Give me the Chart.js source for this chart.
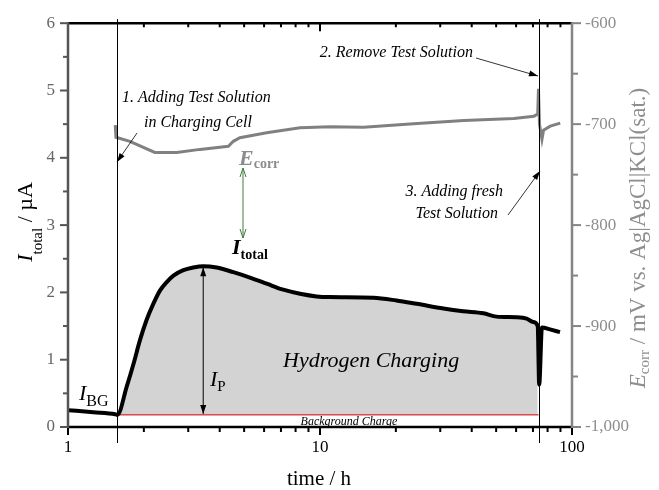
<!DOCTYPE html>
<html>
<head>
<meta charset="utf-8">
<script src="https://cdn.jsdelivr.net/npm/chart.js@4.4.0/dist/chart.umd.min.js"></script>
<style>
  html, body { margin: 0; padding: 0; background: #fff; }
</style>
</head>
<body>
<canvas id="graficoCarga" width="659" height="490"></canvas>
<script>
// tiempo (h) e intensidad total (µA)
const tiempoI = [1.0, 1.26, 1.54, 1.57, 1.71, 1.82, 1.93, 2.05, 2.18, 2.32, 2.46, 2.62, 2.87, 3.14, 3.44, 3.89, 4.53, 5.27, 6.14, 7.15, 8.33, 9.7, 10.9, 16.3, 20.1, 24.2, 30.9, 37.0, 44.5, 50.2, 60.3, 66.1, 70.2, 73.1, 74.1, 76.0, 81.8, 89.6];
const corrienteTotal = [0.25, 0.22, 0.19, 0.18, 0.60, 0.94, 1.29, 1.59, 1.83, 2.03, 2.15, 2.25, 2.33, 2.37, 2.39, 2.37, 2.30, 2.22, 2.13, 2.04, 1.98, 1.94, 1.93, 1.92, 1.88, 1.83, 1.76, 1.72, 1.69, 1.64, 1.63, 1.61, 1.56, 1.50, 0.63, 1.48, 1.45, 1.41];

// tiempo (h) y potencial de corrosión (mV)
const tiempoE = [1.54, 1.55, 1.76, 2.21, 2.70, 3.34, 4.33, 4.53, 4.81, 6.14, 8.33, 10.97, 14.9, 23.5, 37.2, 58.8, 70.6, 73.1, 73.6, 74.3, 76.0, 77.1, 82.0, 89.8];
const potencialCorr = [-701, -713, -717, -728, -728, -725, -722, -717, -713.5, -708.6, -703.6, -702.6, -703, -699.7, -696.3, -694.4, -692.1, -690, -665, -700, -715, -706, -702, -699];

// eventos: añadir solución / cambiar solución
const tiemposEvento = [1.56, 73.7];
// corriente de fondo
const corrienteFondo = 0.18;

const etiquetasX = [1, 10, 100];
const ticksIzq = [0, 1, 2, 3, 4, 5, 6];
const ticksDer = [-1000, -900, -800, -700, -600];

const SERIF = "'Liberation Serif', 'Times New Roman', serif";

const puntosI = tiempoI.map((t, i) => ({ x: t, y: corrienteTotal[i] }));
const puntosE = tiempoE.map((t, i) => ({ x: t, y: potencialCorr[i] }));
const puntosArea = puntosI.filter(p => p.x >= tiemposEvento[0] && p.x <= tiemposEvento[1]);
const puntosFondo = tiemposEvento.map(t => ({ x: t, y: corrienteFondo }));

function texto(ctx, x, y, partes, align) {
  // partes: [{t, font, dy, color}]
  let ancho = 0;
  partes.forEach(p => { ctx.font = p.font; ancho += ctx.measureText(p.t).width; });
  let cx = align === 'center' ? x - ancho / 2 : (align === 'right' ? x - ancho : x);
  ctx.textAlign = 'left';
  ctx.textBaseline = 'alphabetic';
  partes.forEach(p => {
    ctx.font = p.font;
    ctx.fillStyle = p.color || '#000';
    ctx.fillText(p.t, cx, y + (p.dy || 0));
    cx += ctx.measureText(p.t).width;
  });
}

function punta(ctx, x1, y1, x2, y2, largo, ancho, abierta) {
  const ang = Math.atan2(y2 - y1, x2 - x1);
  const bx = x2 - largo * Math.cos(ang), by = y2 - largo * Math.sin(ang);
  const nx = -Math.sin(ang) * ancho / 2, ny = Math.cos(ang) * ancho / 2;
  ctx.beginPath();
  ctx.moveTo(bx + nx, by + ny);
  ctx.lineTo(x2, y2);
  ctx.lineTo(bx - nx, by - ny);
  if (abierta) { ctx.stroke(); } else { ctx.closePath(); ctx.fill(); }
}

function flecha(ctx, x1, y1, x2, y2, color, grosor, doble, abierta) {
  ctx.save();
  ctx.strokeStyle = color;
  ctx.fillStyle = color;
  ctx.lineWidth = grosor;
  ctx.beginPath();
  ctx.moveTo(x1, y1);
  ctx.lineTo(x2, y2);
  ctx.stroke();
  punta(ctx, x1, y1, x2, y2, 9, 6, abierta);
  if (doble) punta(ctx, x2, y2, x1, y1, 9, 6, abierta);
  ctx.restore();
}

const marcoEjes = {
  id: 'marcoEjes',
  afterDatasetsDraw(chart) {
    const { ctx, chartArea: a, scales } = chart;
    const sx = scales.x, sy = scales.y, sy2 = scales.y2;
    ctx.save();

    // lineas verticales de los eventos
    ctx.strokeStyle = '#000';
    ctx.lineWidth = 1;
    tiemposEvento.forEach(t => {
      const px = Math.round(sx.getPixelForValue(t)) + 0.5;
      ctx.beginPath();
      ctx.moveTo(px, a.top - 4);
      ctx.lineTo(px, a.bottom + 16);
      ctx.stroke();
    });

    // ticks eje x (abajo hacia fuera, arriba hacia dentro)
    ctx.strokeStyle = '#000';
    ctx.lineWidth = 2;
    for (let d = 1; d <= 100; d *= 10) {
      for (let k = 1; k <= 9; k++) {
        const v = d * k;
        if (v > 100) break;
        const px = sx.getPixelForValue(v);
        const mayor = k === 1;
        ctx.beginPath();
        ctx.moveTo(px, a.bottom);
        ctx.lineTo(px, a.bottom + (mayor ? 8 : 5));
        ctx.moveTo(px, a.top);
        ctx.lineTo(px, a.top + (mayor ? 8 : 4));
        ctx.stroke();
      }
    }
    // ticks eje izquierdo
    ctx.strokeStyle = '#555';
    for (let v = 0; v <= 6; v += 0.5) {
      const py = sy.getPixelForValue(v);
      ctx.beginPath();
      ctx.moveTo(a.left, py);
      ctx.lineTo(a.left - (v % 1 === 0 ? 8 : 5), py);
      ctx.stroke();
    }
    // ticks eje derecho
    ctx.strokeStyle = '#858585';
    for (let v = -1000; v <= -600; v += 50) {
      const py = sy2.getPixelForValue(v);
      ctx.beginPath();
      ctx.moveTo(a.right, py);
      ctx.lineTo(a.right + (v % 100 === 0 ? 9 : 6), py);
      ctx.stroke();
    }

    // lineas de los ejes
    ctx.lineWidth = 2.5;
    ctx.strokeStyle = '#000';
    ctx.beginPath();
    ctx.moveTo(a.left, a.top); ctx.lineTo(a.right, a.top);
    ctx.moveTo(a.left, a.bottom); ctx.lineTo(a.right, a.bottom);
    ctx.stroke();
    ctx.strokeStyle = '#555';
    ctx.beginPath();
    ctx.moveTo(a.left, a.top - 1); ctx.lineTo(a.left, a.bottom + 1);
    ctx.stroke();
    ctx.strokeStyle = '#858585';
    ctx.beginPath();
    ctx.moveTo(a.right, a.top - 1); ctx.lineTo(a.right, a.bottom + 1);
    ctx.stroke();

    // titulos de los ejes
    texto(ctx, (a.left + a.right) / 2 - 1, 485, [{ t: 'time / h', font: `21px ${SERIF}` }], 'center');

    ctx.save();
    ctx.translate(32, 222);
    ctx.rotate(-Math.PI / 2);
    texto(ctx, 0, 0, [
      { t: 'I', font: `italic 22px ${SERIF}` },
      { t: 'total', font: `15px ${SERIF}`, dy: 10 },
      { t: ' / µA', font: `22px ${SERIF}` }
    ], 'center');
    ctx.restore();

    ctx.save();
    ctx.translate(645, 238);
    ctx.rotate(-Math.PI / 2);
    texto(ctx, 0, 0, [
      { t: 'E', font: `italic 23px ${SERIF}`, color: '#8e8e8e' },
      { t: 'corr', font: `15px ${SERIF}`, dy: 4, color: '#8e8e8e' },
      { t: ' / mV vs. Ag|AgCl|KCl(sat.)', font: `23px ${SERIF}`, color: '#8e8e8e' }
    ], 'center');
    ctx.restore();

    // anotaciones
    const it16 = `italic 16px ${SERIF}`;
    texto(ctx, 122, 102, [{ t: '1. Adding Test Solution', font: it16 }]);
    texto(ctx, 144, 127, [{ t: 'in Charging Cell', font: it16 }]);
    flecha(ctx, 137, 133, 117, 162, '#000', 0.8);

    texto(ctx, 473, 57, [{ t: '2. Remove Test Solution', font: it16 }], 'right');
    flecha(ctx, 476, 58, 538, 76, '#000', 0.8);

    texto(ctx, 503, 196, [{ t: '3. Adding fresh', font: it16 }], 'right');
    texto(ctx, 498, 218, [{ t: 'Test Solution', font: it16 }], 'right');
    flecha(ctx, 508, 215, 540, 171, '#000', 0.8);

    texto(ctx, 239, 165, [
      { t: 'E', font: `bold italic 22px ${SERIF}`, color: '#8c8c8c' },
      { t: 'corr', font: `bold 14px ${SERIF}`, dy: 3, color: '#8c8c8c' }
    ]);
    flecha(ctx, 243, 168, 243, 238, '#3f7f3f', 1, true, true);

    texto(ctx, 232, 254, [
      { t: 'I', font: `bold italic 22px ${SERIF}` },
      { t: 'total', font: `bold 14px ${SERIF}`, dy: 5 }
    ]);

    // altura del pico
    const tPico = tiempoI[corrienteTotal.indexOf(Math.max(...corrienteTotal))];
    const xp = sx.getPixelForValue(tPico);
    flecha(ctx, xp, sy.getPixelForValue(Math.max(...corrienteTotal)) + 1, xp, sy.getPixelForValue(corrienteFondo) - 1, '#000', 1, true);
    texto(ctx, 210, 386, [
      { t: 'I', font: `italic 22px ${SERIF}` },
      { t: 'P', font: `15px ${SERIF}`, dy: 5 }
    ]);
    texto(ctx, 79, 400, [
      { t: 'I', font: `italic 22px ${SERIF}` },
      { t: 'BG', font: `16px ${SERIF}`, dy: 6 }
    ]);

    texto(ctx, 283, 367, [{ t: 'Hydrogen Charging', font: `italic 22px ${SERIF}` }]);
    texto(ctx, 349, 425, [{ t: 'Background Charge', font: `italic 12px ${SERIF}` }], 'center');

    ctx.restore();
  }
};

new Chart(document.getElementById('graficoCarga').getContext('2d'), {
  type: 'line',
  data: {
    datasets: [
      {
        label: 'I total',
        data: puntosI,
        yAxisID: 'y',
        borderColor: '#000',
        borderWidth: 4,
        pointRadius: 0,
        cubicInterpolationMode: 'monotone',
        fill: false,
        order: 0
      },
      {
        label: 'E corr',
        data: puntosE,
        yAxisID: 'y2',
        borderColor: '#808080',
        borderWidth: 3,
        pointRadius: 0,
        tension: 0,
        fill: false,
        order: 1
      },
      {
        label: 'Background',
        data: puntosFondo,
        yAxisID: 'y',
        borderColor: '#d40000',
        borderWidth: 1,
        pointRadius: 0,
        fill: false,
        order: 2
      },
      {
        label: 'Hydrogen Charging',
        data: puntosArea,
        yAxisID: 'y',
        borderWidth: 0,
        borderColor: 'rgba(0,0,0,0)',
        backgroundColor: '#d3d3d3',
        pointRadius: 0,
        cubicInterpolationMode: 'monotone',
        fill: { value: corrienteFondo },
        order: 3
      }
    ]
  },
  options: {
    responsive: false,
    animation: false,
    events: [],
    layout: { padding: { top: 22, left: 0, right: 0, bottom: 0 } },
    plugins: {
      legend: { display: false },
      tooltip: { enabled: false },
      title: { display: false }
    },
    scales: {
      x: {
        type: 'logarithmic',
        position: 'bottom',
        min: 1,
        max: 100,
        grid: { display: false, drawTicks: false },
        border: { display: false },
        afterBuildTicks: scale => { scale.ticks = etiquetasX.map(v => ({ value: v })); },
        afterFit: scale => { scale.height = 63; },
        ticks: {
          autoSkip: false,
          maxRotation: 0,
          padding: 10,
          color: '#000',
          font: { family: SERIF, size: 17 },
          callback: v => String(v)
        }
      },
      y: {
        position: 'left',
        min: 0,
        max: 6,
        grid: { display: false, drawTicks: false },
        border: { display: false },
        afterBuildTicks: scale => { scale.ticks = ticksIzq.map(v => ({ value: v })); },
        afterFit: scale => { scale.width = 68; },
        ticks: {
          padding: 13,
          color: '#666',
          font: { family: SERIF, size: 17 }
        }
      },
      y2: {
        position: 'right',
        min: -1000,
        max: -600,
        grid: { display: false, drawTicks: false },
        border: { display: false },
        afterBuildTicks: scale => { scale.ticks = ticksDer.map(v => ({ value: v })); },
        afterFit: scale => { scale.width = 87; },
        ticks: {
          padding: 13,
          color: '#8e8e8e',
          font: { family: SERIF, size: 17 }
        }
      }
    }
  },
  plugins: [marcoEjes]
});
</script>
</body>
</html>
